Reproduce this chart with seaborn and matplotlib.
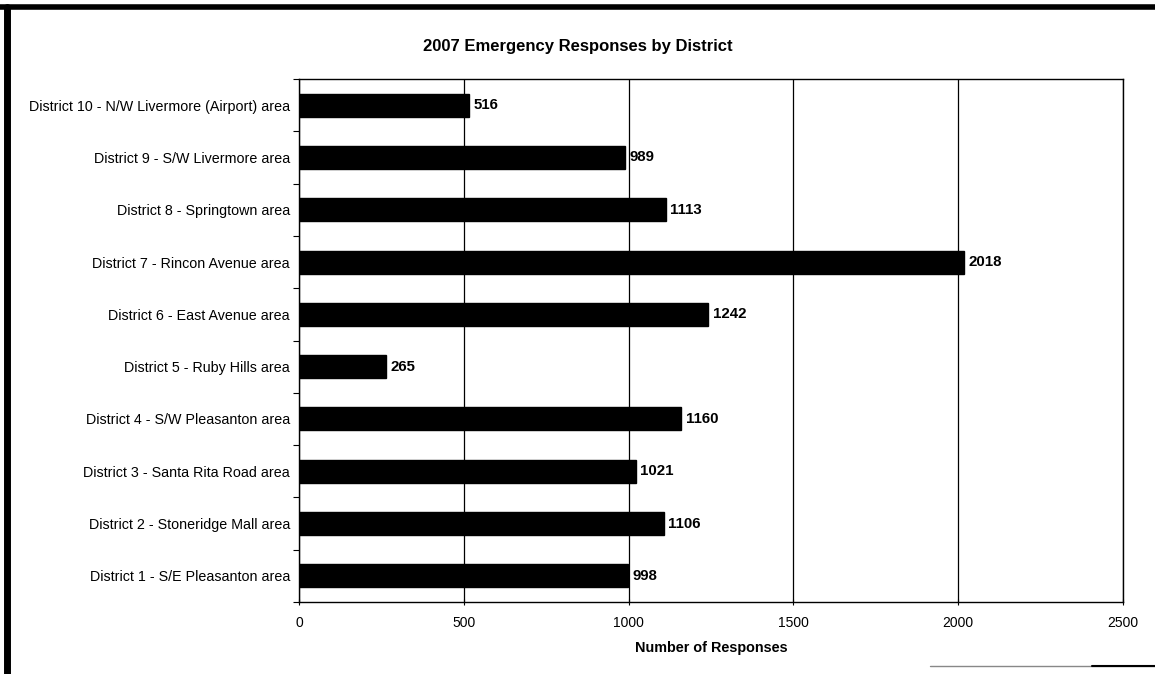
import matplotlib
matplotlib.use("Agg")
import matplotlib.pyplot as plt
from matplotlib.lines import Line2D
from matplotlib.ticker import FixedLocator
import seaborn as sns
import pandas as pd

districts = [
    "District 10 - N/W Livermore (Airport) area",
    "District 9 - S/W Livermore area",
    "District 8 - Springtown area",
    "District 7 - Rincon Avenue area",
    "District 6 - East Avenue area",
    "District 5 - Ruby Hills area",
    "District 4 - S/W Pleasanton area",
    "District 3 - Santa Rita Road area",
    "District 2 - Stoneridge Mall area",
    "District 1 - S/E Pleasanton area",
]
responses = [516, 989, 1113, 2018, 1242, 265, 1160, 1021, 1106, 998]
x_ticks = [0, 500, 1000, 1500, 2000, 2500]

df = pd.DataFrame({"District": districts, "Responses": responses})

sns.set_theme(style="white")
plt.rcParams["font.family"] = ["Liberation Sans", "DejaVu Sans"]

fig = plt.figure(figsize=(11.55, 6.74), dpi=100)
ax = fig.add_axes([0.2589, 0.1068, 0.9723 - 0.2589, 0.8828 - 0.1068])

sns.barplot(data=df, x="Responses", y="District", order=districts,
            orient="h", color="black", width=0.44, saturation=1,
            edgecolor="black", ax=ax, zorder=3)

ax.set_xlim(0, 2500)
ax.set_ylim(len(districts) - 0.5, -0.5)
ax.set_xticks(x_ticks)
ax.set_xticklabels([str(t) for t in x_ticks], fontsize=10, color="black")
ax.tick_params(axis="x", which="major", length=4, width=0.8, direction="inout",
               pad=8, color="black", bottom=True)
ax.tick_params(axis="y", which="major", length=0, pad=6.5, labelsize=10.3,
               labelcolor="black")
ax.yaxis.set_minor_locator(FixedLocator([i - 0.5 for i in range(len(districts) + 1)]))
ax.tick_params(axis="y", which="minor", length=4, width=0.8, direction="out",
               color="black", left=True)

ax.xaxis.grid(True, color="black", linewidth=0.9, zorder=0)
ax.set_axisbelow(True)
for s in ax.spines.values():
    s.set_visible(True)
    s.set_color("black")
    s.set_linewidth(1.0)

ax.set_ylabel("")
ax.set_xlabel("Number of Responses", fontsize=10.4, fontweight="bold",
              color="black", labelpad=8)
fig.text(0.5 + 0.0, 1 - 46 / 674, "2007 Emergency Responses by District",
         ha="center", va="center", fontsize=12, fontweight="bold", color="black")

# value labels at the end of each bar
for i, v in enumerate(responses):
    ax.annotate(str(v), xy=(v, i), xytext=(3, 0), textcoords="offset points",
                ha="left", va="center", fontsize=10.8, fontweight="bold",
                color="black")

# outer frame (top and left edges heavy, partial bottom rule at right)
fig.add_artist(Line2D([0, 1], [1 - 6.5 / 674, 1 - 6.5 / 674],
                      transform=fig.transFigure, color="black", linewidth=4))
fig.add_artist(Line2D([6.5 / 1155, 6.5 / 1155], [0, 1 - 6.5 / 674],
                      transform=fig.transFigure, color="black", linewidth=5))
fig.add_artist(Line2D([930 / 1155, 1], [1 - 666 / 674, 1 - 666 / 674],
                      transform=fig.transFigure, color="#888888", linewidth=1))
fig.add_artist(Line2D([1092 / 1155, 1], [1 - 666 / 674, 1 - 666 / 674],
                      transform=fig.transFigure, color="black", linewidth=1.5))

fig.savefig("out.png", dpi=100, facecolor="white")
